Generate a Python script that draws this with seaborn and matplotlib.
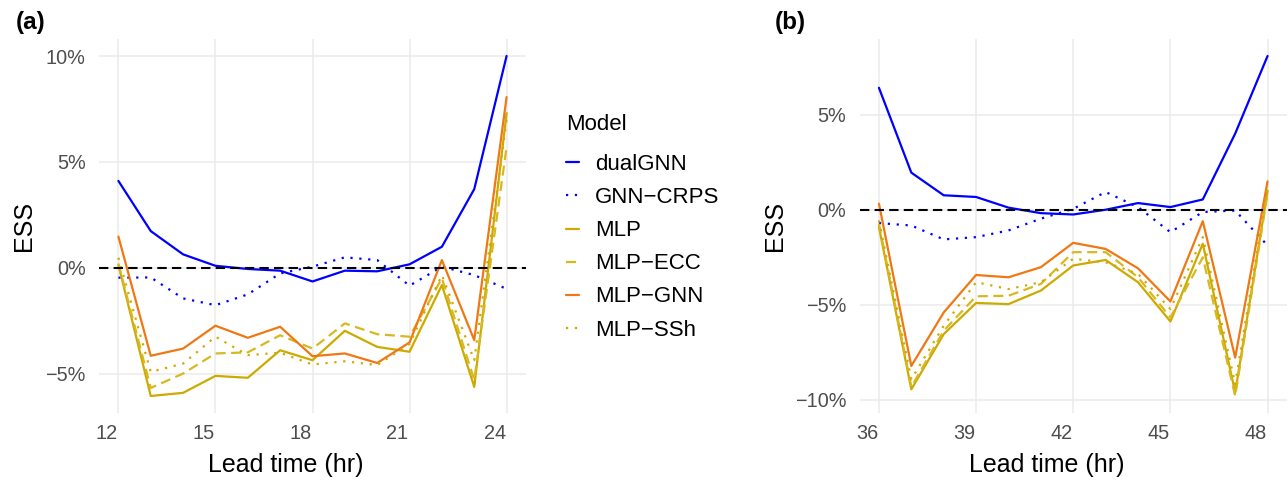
import numpy as np
import pandas as pd
import seaborn as sns
import matplotlib
matplotlib.use("Agg")
import matplotlib.pyplot as plt
from matplotlib.ticker import MultipleLocator, FuncFormatter
from matplotlib.transforms import ScaledTranslation

# ---------------- data (ESS in %) ----------------
models = ["dualGNN", "GNN-CRPS", "MLP", "MLP-ECC", "MLP-GNN", "MLP-SSh"]

lead_a = [12, 13, 14, 15, 16, 17, 18, 19, 20, 21, 22, 23, 24]
dualgnn_a = [4.10, 1.73, 0.63, 0.09, -0.06, -0.14, -0.65, -0.14, -0.17, 0.16, 0.99, 3.71, 10.0]
gnncrps_a = [-0.47, -0.46, -1.45, -1.77, -1.26, -0.27, 0.05, 0.49, 0.36, -0.85, 0.05, -0.35, -1.00]
mlp_a = [0.13, -6.06, -5.91, -5.11, -5.20, -3.90, -4.37, -2.98, -3.74, -3.97, -0.82, -5.63, 7.30]
mlpecc_a = [0.20, -5.68, -5.00, -4.05, -4.00, -3.19, -3.82, -2.63, -3.14, -3.26, -0.50, -5.30, 5.70]
mlpgnn_a = [1.47, -4.16, -3.82, -2.74, -3.31, -2.79, -4.18, -4.05, -4.50, -3.53, 0.36, -3.42, 8.06]
mlpssh_a = [0.47, -4.92, -4.53, -3.26, -4.13, -4.02, -4.57, -4.42, -4.60, -3.60, -0.35, -4.37, 7.00]

lead_b = [36, 37, 38, 39, 40, 41, 42, 43, 44, 45, 46, 47, 48]
dualgnn_b = [6.41, 1.95, 0.76, 0.67, 0.11, -0.18, -0.25, 0.00, 0.35, 0.14, 0.54, 4.00, 8.08]
gnncrps_b = [-0.70, -0.83, -1.56, -1.44, -1.09, -0.47, 0.05, 0.93, 0.14, -1.18, -0.12, -0.04, -1.88]
mlp_b = [-0.91, -9.44, -6.54, -4.90, -4.96, -4.25, -2.93, -2.64, -3.81, -5.87, -1.79, -9.61, 1.00]
mlpecc_b = [-0.74, -9.31, -6.36, -4.55, -4.52, -3.90, -2.23, -2.23, -3.55, -5.66, -2.50, -9.79, 0.85]
mlpgnn_b = [0.32, -8.21, -5.40, -3.43, -3.55, -3.02, -1.74, -2.06, -3.08, -4.82, -0.60, -7.77, 1.49]
mlpssh_b = [-0.56, -8.91, -6.10, -3.81, -4.17, -3.81, -2.58, -2.76, -3.37, -5.22, -1.44, -9.17, 1.20]

panel_labels = ["(a)", "(b)"]
x_title = "Lead time (hr)"
y_title = "ESS"
legend_title = "Model"


def long_df(lead, series):
    rows = []
    for m, vals in zip(models, series):
        for x, v in zip(lead, vals):
            rows.append({"lead": x, "ess": v, "Model": m})
    return pd.DataFrame(rows)


df_a = long_df(lead_a, [dualgnn_a, gnncrps_a, mlp_a, mlpecc_a, mlpgnn_a, mlpssh_a])
df_b = long_df(lead_b, [dualgnn_b, gnncrps_b, mlp_b, mlpecc_b, mlpgnn_b, mlpssh_b])

# ---------------- style ----------------
palette = {
    "dualGNN": "#0000FF",
    "GNN-CRPS": "#0000FF",
    "MLP": "#CDAA00",
    "MLP-ECC": "#D8B820",
    "MLP-GNN": "#F07814",
    "MLP-SSh": "#D4A800",
}
dashes = {
    "dualGNN": "",
    "GNN-CRPS": (1, 3),
    "MLP": "",
    "MLP-ECC": (4.5, 2.5),
    "MLP-GNN": "",
    "MLP-SSh": (1, 3),
}

sns.set_theme(style="white")
plt.rcParams["font.family"] = ["Liberation Sans", "DejaVu Sans"]
plt.rcParams["axes.unicode_minus"] = True
plt.rcParams["text.color"] = "black"
plt.rcParams["axes.labelcolor"] = "black"

W, H = 1288, 483
fig = plt.figure(figsize=(W / 100, H / 100), dpi=100)


def px_axes(l, t, r, b):
    return fig.add_axes([l / W, 1 - b / H, (r - l) / W, (b - t) / H])


ax_a = px_axes(99, 39, 526, 413)
ax_b = px_axes(859.5, 39, 1287, 413)

pct = FuncFormatter(lambda v, p: (f"{v:g}%").replace("-", "\u2212"))
shift = ScaledTranslation(-12 / 100, 0, fig.dpi_scale_trans)

for ax, df, draw_leg in [(ax_a, df_a, True), (ax_b, df_b, False)]:
    sns.lineplot(data=df, x="lead", y="ess", hue="Model", style="Model",
                 hue_order=models, style_order=models,
                 palette=palette, dashes=dashes, linewidth=1.6,
                 ax=ax, legend=draw_leg, zorder=3)
    ax.axhline(0, color="black", lw=1.5, ls=(0, (4.5, 2.5)), zorder=4)
    ax.margins(x=0.05, y=0.05)
    ax.xaxis.set_major_locator(MultipleLocator(3))
    ax.yaxis.set_major_locator(MultipleLocator(5))
    ax.yaxis.set_major_formatter(pct)
    ax.grid(True, color="#EBEBEB", lw=1.1)
    ax.set_axisbelow(True)
    for s in ax.spines.values():
        s.set_visible(False)
    ax.tick_params(axis="both", length=0, labelsize=14.3, labelcolor="#4D4D4D")
    ax.tick_params(axis="x", pad=8)
    ax.tick_params(axis="y", pad=9.5)
    for lab in ax.get_xticklabels():
        lab.set_transform(lab.get_transform() + shift)
    ax.set_xlabel(x_title, fontsize=18, color="black")
    ax.set_ylabel(y_title, fontsize=18, color="black")
    ax.xaxis.set_label_coords(0.437, -0.108)

ax_a.yaxis.set_label_coords((36 - 99) / 427.0, 0.5)
ax_b.yaxis.set_label_coords((787 - 859.5) / 427.5, 0.5)

# legend
leg0 = ax_a.get_legend()
handles = list(leg0.legend_handles)
labels = [t.get_text().replace("-", "\u2212") for t in leg0.texts]
leg0.remove()
leg = fig.legend(handles, labels, title=legend_title, loc="upper left",
                 bbox_to_anchor=(566 / W, 1 - 114 / H), frameon=False,
                 fontsize=16, title_fontsize=16, borderpad=0, borderaxespad=0,
                 handlelength=0.6, handletextpad=0.7, labelspacing=0.545)
leg._legend_box.align = "left"
leg._legend_box.sep = leg._legend_box.sep + 5
leg.get_title().set_color("black")
for h in leg.legend_handles:
    h.set_linewidth(1.6)

fig.text(16 / W, 1 - 11 / H, panel_labels[0], fontsize=17.5, fontweight="bold",
         va="top", ha="left", color="black")
fig.text(775 / W, 1 - 11 / H, panel_labels[1], fontsize=17.5, fontweight="bold",
         va="top", ha="left", color="black")

fig.savefig("out.png", dpi=100)
